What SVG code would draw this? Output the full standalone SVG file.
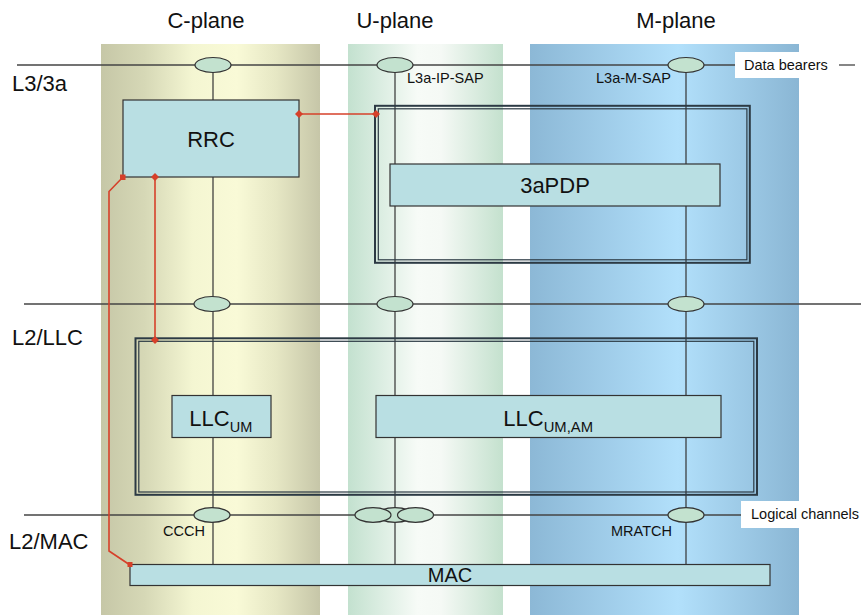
<svg xmlns="http://www.w3.org/2000/svg" width="861" height="615" viewBox="0 0 861 615">
<defs>
<linearGradient id="gC" x1="0" y1="0" x2="1" y2="0">
<stop offset="0" stop-color="#c6c7a7"/>
<stop offset="0.2" stop-color="#d6d8b6"/>
<stop offset="0.42" stop-color="#f4f6d2"/>
<stop offset="0.62" stop-color="#f9fad7"/>
<stop offset="0.8" stop-color="#e6e7c4"/>
<stop offset="1" stop-color="#c6c6a8"/>
</linearGradient>
<linearGradient id="gU" x1="0" y1="0" x2="1" y2="0">
<stop offset="0" stop-color="#c3e1cf"/>
<stop offset="0.45" stop-color="#f7fbf7"/>
<stop offset="0.6" stop-color="#f5f9f5"/>
<stop offset="1" stop-color="#c4e1ce"/>
</linearGradient>
<linearGradient id="gM" x1="0" y1="0" x2="1" y2="0">
<stop offset="0" stop-color="#8cb8d6"/>
<stop offset="0.55" stop-color="#b2e0fb"/>
<stop offset="1" stop-color="#8ab6d4"/>
</linearGradient>
<style>
text{font-family:"Liberation Sans",Arial,sans-serif;fill:#111}
.line{stroke:#333;stroke-width:1.2;fill:none}
.hline{stroke:#444;stroke-width:1.3;fill:none}
.box{fill:#b9dfe3;stroke:#333;stroke-width:1.2}
.frame-o{fill:none;stroke:#2c3a44;stroke-width:2}
.frame-i{fill:none;stroke:#2c3a44;stroke-width:1.2}
.sap{fill:#c3e2cf;stroke:#333;stroke-width:1.2}
.red{stroke:#d6402a;stroke-width:1.6;fill:none}
.mk{fill:#d6402a}
.big{font-size:22px}
.small{font-size:14.5px}
.lab{fill:#fff}
</style>
</defs>

<g id="bands">
<rect x="101" y="44" width="219" height="571" fill="url(#gC)"/>
<rect x="348" y="44" width="155" height="571" fill="url(#gU)"/>
<rect x="530" y="44" width="269" height="571" fill="url(#gM)"/>
</g>

<g id="headers">
<text class="big" x="206" y="28" text-anchor="middle">C-plane</text>
<text class="big" x="395" y="28" text-anchor="middle">U-plane</text>
<text class="big" x="676" y="28" text-anchor="middle">M-plane</text>
</g>

<g id="layers">
<text class="big" x="12" y="91">L3/3a</text>
<text class="big" x="12" y="345">L2/LLC</text>
<text class="big" x="9" y="549">L2/MAC</text>
</g>

<g id="connectors">
<line class="hline" x1="17" y1="65" x2="735" y2="65"/>
<line class="hline" x1="839" y1="65" x2="855" y2="65"/>
<line class="hline" x1="24" y1="304" x2="861" y2="304"/>
<line class="hline" x1="24" y1="515" x2="741" y2="515"/>
<line class="line" x1="213" y1="65" x2="213" y2="564.5"/>
<line class="line" x1="395" y1="65" x2="395" y2="564.5"/>
<line class="line" x1="686" y1="65" x2="686" y2="564.5"/>
</g>

<g id="label-data-bearers">
<rect class="lab" x="735" y="52" width="64" height="26"/>
<text class="small" x="744" y="70">Data bearers</text>
</g>
<g id="label-logical-channels">
<rect class="lab" x="741" y="501" width="58" height="27"/>
<text class="small" x="751" y="519" font-size="14">Logical channels</text>
</g>

<g id="frame-3a">
<rect class="frame-o" x="375" y="105.8" width="374.8" height="157"/>
<rect class="frame-i" x="378.3" y="108.8" width="368.6" height="151"/>
</g>
<g id="frame-llc">
<rect class="frame-o" x="135.5" y="338.3" width="621.5" height="156.5"/>
<rect class="frame-i" x="138.8" y="341.3" width="615" height="150.7"/>
</g>

<g id="rrc">
<rect class="box" x="123" y="100" width="176" height="77"/>
<text class="big" x="211" y="147" text-anchor="middle">RRC</text>
</g>
<g id="pdp3a">
<rect class="box" x="390" y="164" width="330" height="42"/>
<text class="big" x="555" y="193" text-anchor="middle">3aPDP</text>
</g>
<g id="llc-um">
<rect class="box" x="172" y="395.5" width="99" height="42"/>
<text class="big" x="189.3" y="425.5">LLC<tspan font-size="14.5" dy="6">UM</tspan></text>
</g>
<g id="llc-umam">
<rect class="box" x="376" y="395.5" width="345" height="42"/>
<text class="big" x="503.3" y="425.5">LLC<tspan font-size="14.8" dy="6">UM,AM</tspan></text>
</g>
<g id="mac">
<rect class="box" x="130" y="564.5" width="640" height="21"/>
<text x="450" y="582" font-size="20" text-anchor="middle">MAC</text>
</g>

<g id="saps-l3">
<ellipse class="sap" cx="213" cy="65" rx="18" ry="7.5"/>
<ellipse class="sap" cx="395" cy="65" rx="18" ry="7.5"/>
<ellipse class="sap" cx="686" cy="65" rx="18" ry="7.5"/>
<text class="small" x="407" y="83">L3a-IP-SAP</text>
<text class="small" x="596" y="83">L3a-M-SAP</text>
</g>
<g id="saps-l2">
<ellipse class="sap" cx="212" cy="304" rx="18" ry="7.5"/>
<ellipse class="sap" cx="395" cy="304" rx="18" ry="7.5"/>
<ellipse class="sap" cx="686" cy="304" rx="18" ry="7.5"/>
</g>
<g id="saps-mac">
<ellipse class="sap" cx="212" cy="515" rx="18" ry="7.3"/>
<ellipse class="sap" cx="395" cy="515" rx="18" ry="7.3"/>
<ellipse class="sap" cx="373" cy="515" rx="18" ry="7.3"/>
<ellipse class="sap" cx="415.5" cy="515" rx="18" ry="7.3"/>
<ellipse class="sap" cx="686" cy="515" rx="18" ry="7.3"/>
<text class="small" x="163" y="536">CCCH</text>
<text class="small" x="611" y="536">MRATCH</text>
</g>

<g id="control-links">
<path class="red" d="M299,114 H376"/>
<path class="red" d="M155,177 V340"/>
<path class="red" d="M123,177 L109,191.5 V551 L130,565"/>
<path class="mk" d="M299,110 L303,114 L299,118 L295,114 Z"/>
<path class="mk" d="M376,110 L380,114 L376,118 L372,114 Z"/>
<path class="mk" d="M155,173 L159,177 L155,181 L151,177 Z"/>
<path class="mk" d="M155,336 L159,340 L155,344 L151,340 Z"/>
<rect class="mk" x="120" y="174.5" width="5.5" height="5.5"/>
<rect class="mk" x="127.5" y="562" width="5" height="5"/>
</g>
</svg>
